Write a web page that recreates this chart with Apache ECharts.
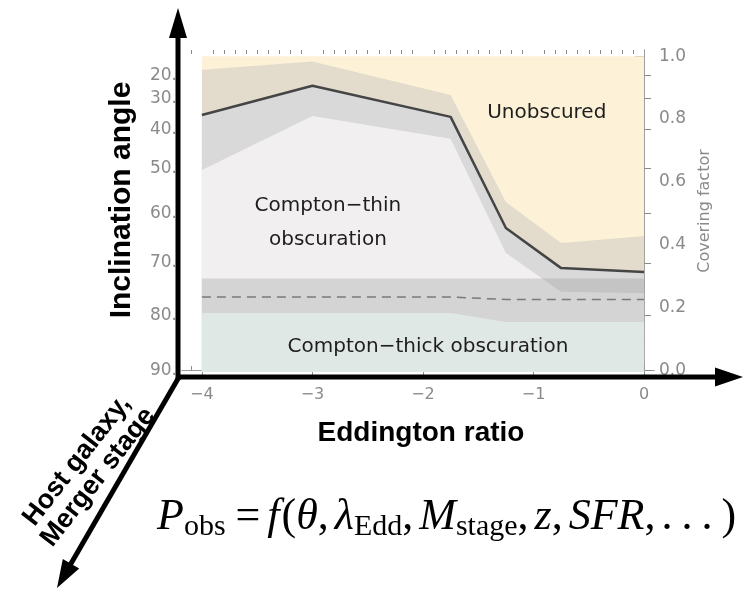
<!DOCTYPE html>
<html>
<head>
<meta charset="utf-8">
<script src="https://cdn.jsdelivr.net/npm/echarts@6/dist/echarts.min.js"></script>
<style>
  html, body { margin: 0; padding: 0; background: #ffffff; }
  #chart { width: 743px; height: 590px; }
</style>
</head>
<body>
<div id="chart"></div>
<script>
// log Eddington ratio bins
const eddRatio = [-4, -3, -1.75, -1.25, -0.75, 0];
// covering factor of obscuring gas and its uncertainty band
const coveringFactor = [0.813, 0.906, 0.807, 0.453, 0.325, 0.313];
const coveringUpper = [0.957, 0.983, 0.877, 0.536, 0.405, 0.427];
const coveringLower = [0.638, 0.810, 0.737, 0.373, 0.250, 0.245];
const unobscuredTop = [1, 1, 1, 1, 1, 1];
// Compton-thick fraction and its uncertainty band
const ctFraction = [0.233, 0.233, 0.233, 0.225, 0.225, 0.225];
const ctUpper = [0.292, 0.292, 0.292, 0.292, 0.292, 0.292];
const ctLower = [0.182, 0.182, 0.182, 0.153, 0.153, 0.153];

// tick labels
const xMajorTicks = [-4, -3, -2, -1, 0];
const coveringTicks = [0, 0.2, 0.4, 0.6, 0.8, 1.0];
const coveringMinorTicks = [0.1, 0.3, 0.5, 0.7, 0.9];
const inclinationTicks = [20, 30, 40, 50, 60, 70, 80, 90];

// minor ticks every 0.1 in log Eddington ratio
const xMinorTicks = [];
for (let k = -41; k <= 0; k++) {
  if (k % 10 !== 0) xMinorTicks.push(k / 10);
}
// covering factor of a torus opening at inclination i is cos(i)
const inclinationPos = inclinationTicks.map(d => Math.cos(d * Math.PI / 180));

const xs = v => eddRatio.map((x, i) => [x, v[i]]);

const axisGrey = '#8a8a8a';
const frameGrey = '#9b9b9b';
const labelFont = 'DejaVu Sans';

const fmtX = v => (v < 0 ? '\u2212' + Math.abs(v) : String(v));
const fmtIncl = v => Math.round(Math.acos(Math.min(1, v)) * 180 / Math.PI) + '.';

function xAxisDef(position, ticks, len, withLine, withLabels) {
  return {
    type: 'value', position, min: -4.18, max: 0.09,
    axisLine: { show: withLine, lineStyle: { color: frameGrey, width: 1 } },
    splitLine: { show: false },
    axisTick: { show: true, inside: true, length: len, customValues: ticks,
                lineStyle: { color: axisGrey, width: 1 } },
    axisLabel: withLabels
      ? { show: true, customValues: ticks, formatter: fmtX, color: axisGrey,
          fontSize: 16, fontFamily: labelFont, margin: 15 }
      : { show: false }
  };
}

function yAxisDef(position, ticks, len, withLine, labelFmt, extra) {
  return Object.assign({
    type: 'value', position, min: -0.006, max: 1.02,
    axisLine: { show: withLine, lineStyle: { color: frameGrey, width: 1 } },
    splitLine: { show: false },
    axisTick: { show: true, inside: true, length: len, customValues: ticks,
                lineStyle: { color: axisGrey, width: 1 } },
    axisLabel: labelFmt
      ? { show: true, customValues: ticks, formatter: labelFmt, color: axisGrey,
          fontSize: 17, fontFamily: labelFont, margin: 5 }
      : { show: false }
  }, extra || {});
}

function band(name, values, color) {
  return {
    name, type: 'line', data: xs(values), symbol: 'none', silent: true,
    lineStyle: { width: 0 },
    areaStyle: { color, opacity: 1, origin: 'start' }
  };
}

const chart = echarts.init(document.getElementById('chart'), null, { renderer: 'canvas' });

chart.setOption({
  animation: false,
  backgroundColor: '#ffffff',
  grid: { left: 182, right: 89, top: 50, bottom: 218, containLabel: false },
  xAxis: [
    xAxisDef('bottom', xMajorTicks, 8, true, true),
    xAxisDef('bottom', xMinorTicks, 4, false, false),
    xAxisDef('top', xMajorTicks, 8, true, false),
    xAxisDef('top', xMinorTicks, 4, false, false)
  ],
  yAxis: [
    yAxisDef('right', coveringTicks, 9, true, v => v.toFixed(1), {
      name: 'Covering factor', nameLocation: 'middle', nameRotate: 90, nameGap: 41,
      nameTextStyle: { color: axisGrey, fontSize: 16, fontFamily: labelFont }
    }),
    yAxisDef('right', coveringMinorTicks, 5, false, null),
    yAxisDef('left', inclinationPos, 7, true, fmtIncl)
  ],
  series: [
    band('Unobscured', unobscuredTop, '#fdf2d8'),
    band('Upper bound', coveringUpper, '#e3dccc'),
    band('Covering factor band', coveringFactor, '#d9d9d9'),
    band('Compton-thin', coveringLower, '#f1efef'),
    band('Compton-thick band', ctUpper, 'rgba(150,150,150,0.3)'),
    band('Compton-thick', ctLower, '#e0e8e5'),
    {
      name: 'Compton-thick fraction', type: 'line', data: xs(ctFraction), symbol: 'none',
      silent: true, lineStyle: { color: '#7a7a7a', width: 1.5, type: [9, 6] }
    },
    {
      name: 'Covering factor', type: 'line', data: xs(coveringFactor), symbol: 'none',
      silent: true, lineStyle: { color: '#454545', width: 2.5 }
    }
  ]
});

// region labels placed in data coordinates
const regionLabels = [
  { text: 'Unobscured', at: [-0.88, 0.82] },
  { text: 'Compton\u2212thin', at: [-2.86, 0.523] },
  { text: 'obscuration', at: [-2.86, 0.415] },
  { text: 'Compton\u2212thick obscuration', at: [-1.955, 0.073] }
];

const graphics = regionLabels.map(l => {
  const p = chart.convertToPixel({ xAxisIndex: 0, yAxisIndex: 0 }, l.at);
  return {
    type: 'text', x: p[0], y: p[1], z: 50, silent: true,
    style: { text: l.text, align: 'center', verticalAlign: 'middle',
             font: '20px "DejaVu Sans"', fill: '#1e1e1e' }
  };
});

// parameter-space arrows
const arrowStyle = { stroke: '#000', lineWidth: 5 };
graphics.push(
  { type: 'line', z: 60, shape: { x1: 178, y1: 380, x2: 178, y2: 34 }, style: arrowStyle },
  { type: 'polygon', z: 60, shape: { points: [[178, 8], [169, 38], [187, 38]] }, style: { fill: '#000' } },
  { type: 'line', z: 60, shape: { x1: 176, y1: 377, x2: 718, y2: 377 }, style: arrowStyle },
  { type: 'polygon', z: 60, shape: { points: [[743, 377], [715, 367.5], [715, 386.5]] }, style: { fill: '#000' } },
  { type: 'line', z: 60, shape: { x1: 179, y1: 377, x2: 69, y2: 567 }, style: arrowStyle },
  { type: 'polygon', z: 60, shape: { points: [[57, 588], [79.2, 568.6], [62.8, 559.0]] }, style: { fill: '#000' } }
);

// axis titles
graphics.push(
  { type: 'text', z: 60, x: 122, y: 200, rotation: Math.PI / 2,
    style: { text: 'Inclination angle', align: 'center', verticalAlign: 'middle',
             font: 'bold 30px "Liberation Sans"', fill: '#000' } },
  { type: 'text', z: 60, x: 421, y: 433,
    style: { text: 'Eddington ratio', align: 'center', verticalAlign: 'middle',
             font: 'bold 28px "Liberation Sans"', fill: '#000' } },
  { type: 'text', z: 60, x: 87.5, y: 469, rotation: 52 * Math.PI / 180,
    style: { text: 'Host galaxy,\nMerger stage', align: 'center', verticalAlign: 'middle',
             font: 'bold 27px "Liberation Sans"', lineHeight: 27, fill: '#000' } }
);

// observed-fraction relation
const serif = 'Liberation Serif';
const main = 44;
const sub = 30;
const mainLine = 50;
graphics.push({
  type: 'text', z: 60, x: 157, y: 517,
  style: {
    text: '{i|P}{s|obs}{e|=}{f|f}{r|(}{i|\u03b8}{c|,}{i|\u03bb}{s|Edd}{c|,}{i|M}{s|stage}{c|,}'
        + '{i|z}{c|,}{i|SFR}{c|,}{d|.}{d|.}{d|.}{r|)}',
    align: 'left', verticalAlign: 'middle', fill: '#000',
    rich: {
      i: { fontFamily: serif, fontStyle: 'italic', fontSize: main, lineHeight: mainLine, verticalAlign: 'middle' },
      f: { fontFamily: serif, fontStyle: 'italic', fontSize: main, lineHeight: mainLine, verticalAlign: 'middle', padding: [0, 2, 0, 0] },
      r: { fontFamily: serif, fontSize: main, lineHeight: mainLine, verticalAlign: 'middle' },
      e: { fontFamily: serif, fontSize: main, lineHeight: mainLine, verticalAlign: 'middle', padding: [0, 7, 0, 10] },
      c: { fontFamily: serif, fontSize: main, lineHeight: mainLine, verticalAlign: 'middle', padding: [0, 6, 0, 0] },
      d: { fontFamily: serif, fontSize: main, lineHeight: mainLine, verticalAlign: 'middle', padding: [0, 9, 0, 0] },
      s: { fontFamily: serif, fontSize: sub, lineHeight: 30, verticalAlign: 'bottom' }
    }
  }
});

chart.setOption({ graphic: { elements: graphics } });
</script>
</body>
</html>
